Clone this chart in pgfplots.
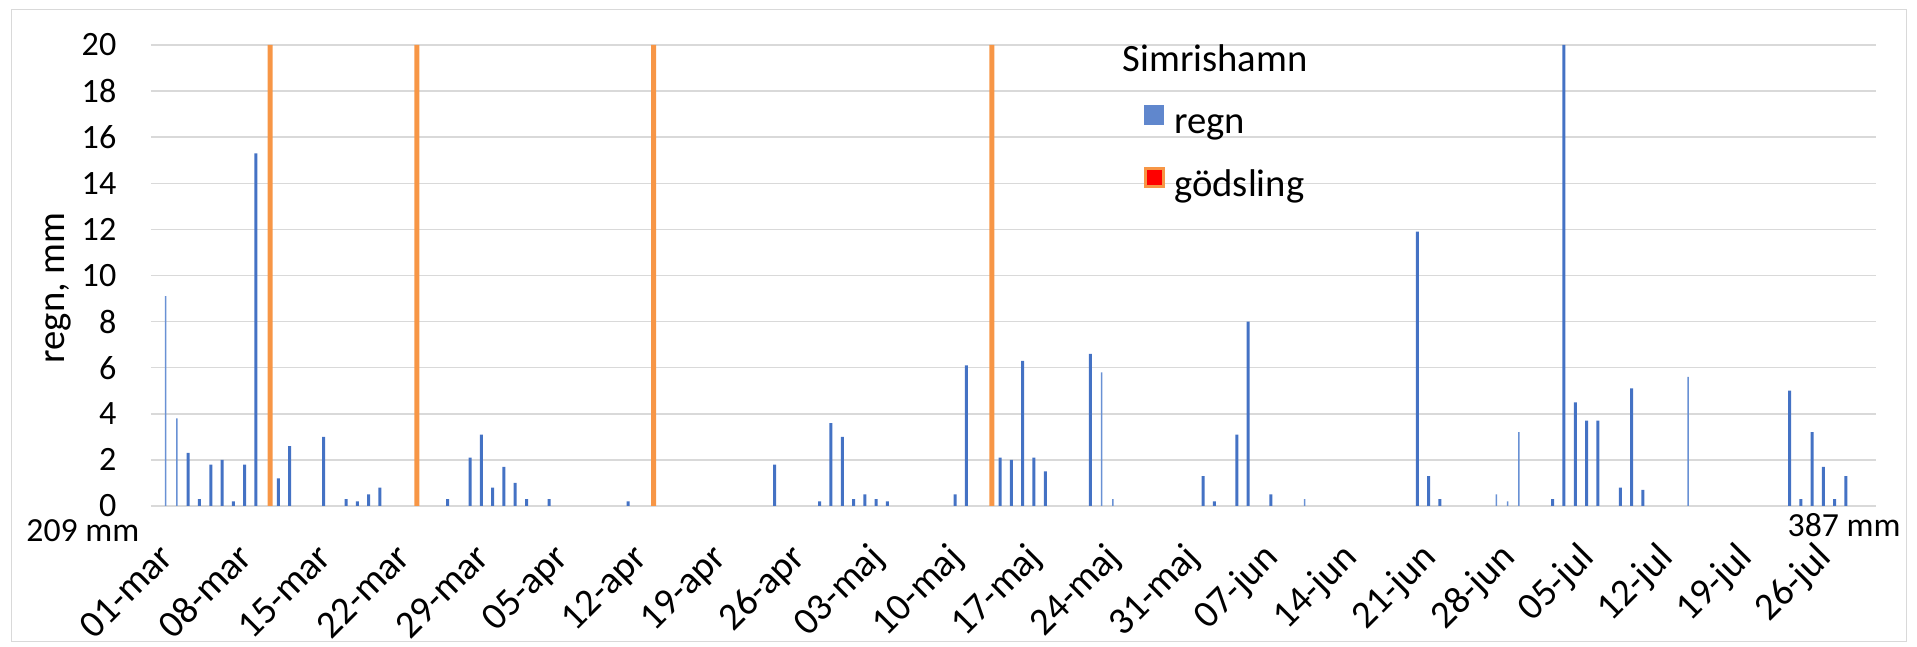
\documentclass[border=0pt]{standalone}
\usepackage{fontspec}
\setmainfont{Carlito}
\usepackage{pgfplots}
\pgfplotsset{compat=1.18}
\definecolor{regn}{RGB}{68,114,196}
\definecolor{regnthin}{RGB}{105,145,212}
\definecolor{godsl}{RGB}{247,150,70}
\definecolor{gridc}{RGB}{217,217,217}
\begin{document}
\begin{tikzpicture}
\begin{axis}[
  name=ax,
  scale only axis,
  width=172.5mm, height=46.1mm,
  xmin=-1.3, xmax=151.67, ymin=0, ymax=20,
  ytick={0,2,...,20},
  xtick={0,7,...,147},
  xticklabels={01-mar,08-mar,15-mar,22-mar,29-mar,05-apr,12-apr,19-apr,26-apr,03-maj,10-maj,17-maj,24-maj,31-maj,07-jun,14-jun,21-jun,28-jun,05-jul,12-jul,19-jul,26-jul},
  ymajorgrids,
  grid style={gridc, line width=0.15mm},
  axis line style={draw=none},
  major tick length=0pt,
  /pgf/number format/assume math mode=true,
  y tick label style={font=\fontsize{9.7}{11.6}\selectfont, inner sep=0pt, xshift=-3.4mm},
  x tick label style={font=\fontsize{11}{13}\selectfont, inner sep=0pt, yshift=-5.3mm, xshift=1.0mm, rotate=45, anchor=base east},
  every axis y label/.style={at={(axis description cs:0,0.473)}, xshift=-9.3mm, rotate=90, anchor=center, font=\fontsize{11}{13}\selectfont},
  ylabel={regn, mm},
  legend style={draw=none, fill=none, at={(rel axis cs:0.575,0.872)}, anchor=north west, inner sep=0pt, row sep=2.3mm,
    nodes={inner sep=0pt, text height=2.8mm, text depth=1.0mm, font=\fontsize{11}{13}\selectfont}},
  legend cell align=left,
]
\addplot[ybar, bar width=0.15mm, bar shift=0pt, fill=regnthin, draw=none, forget plot] coordinates {
(0,9.1) (1,3.8) (83,5.8) (84,0.3) (101,0.3) (118,0.5) (119,0.2) (120,3.2) (135,5.6)
};
\addplot[ybar, bar width=0.3mm, bar shift=0pt, fill=regn, draw=none,
  legend image code/.code={\fill[regn!85!white] (0mm,0mm) rectangle (2mm,2mm); \path (3mm,0mm);}] coordinates {
(2,2.3) (3,0.3) (4,1.8) (5,2.0) (6,0.2) (7,1.8) (8,15.3) (10,1.2) (11,2.6) (14,3.0)
(16,0.3) (17,0.2) (18,0.5) (19,0.8) (25,0.3) (27,2.1) (28,3.1) (29,0.8) (30,1.7) (31,1.0)
(32,0.3) (34,0.3) (41,0.2) (54,1.8) (58,0.2) (59,3.6) (60,3.0) (61,0.3) (62,0.5) (63,0.3)
(64,0.2) (70,0.5) (71,6.1) (74,2.1) (75,2.0) (76,6.3) (77,2.1) (78,1.5) (82,6.6) (92,1.3)
(93,0.2) (95,3.1) (96,8.0) (98,0.5) (111,11.9) (112,1.3) (113,0.3) (123,0.3) (124,20)
(125,4.5) (126,3.7) (127,3.7) (129,0.8) (130,5.1) (131,0.7) (144,5.0) (145,0.3) (146,3.2)
(147,1.7) (148,0.3) (149,1.3)
};
\addlegendentry{regn}
\addplot[ybar, bar width=0.5mm, bar shift=0.3mm, fill=godsl, draw=none,
  legend image code/.code={\filldraw[fill=red, draw=godsl, line width=0.35mm] (0.1mm,0.1mm) rectangle (1.9mm,1.9mm); \path (3mm,0mm);}] coordinates {
(9,20) (22,20) (43,20) (73,20)
};
\addlegendentry{gödsling}
\end{axis}
\node[anchor=base west, inner sep=0pt, font=\fontsize{11}{13}\selectfont] at ([shift={(97.1mm,43.4mm)}]ax.south west) {Simrishamn};
\node[anchor=base east, inner sep=0pt, font=\fontsize{9.6}{11}\selectfont] at ([shift={(-1.1mm,-3.6mm)}]ax.south west) {209 mm};
\node[anchor=base west, inner sep=0pt, font=\fontsize{9.6}{11}\selectfont] at ([shift={(163.6mm,-3.1mm)}]ax.south west) {387 mm};
\draw[gridc, line width=0.1mm] ([shift={(-13.9mm,-13.6mm)}]ax.south west) rectangle ([shift={(175.5mm,49.6mm)}]ax.south west);
\pgfresetboundingbox
\useasboundingbox ([shift={(-15.1mm,-14.1mm)}]ax.south west) rectangle ([shift={(176.6mm,50.6mm)}]ax.south west);
\end{tikzpicture}
\end{document}
